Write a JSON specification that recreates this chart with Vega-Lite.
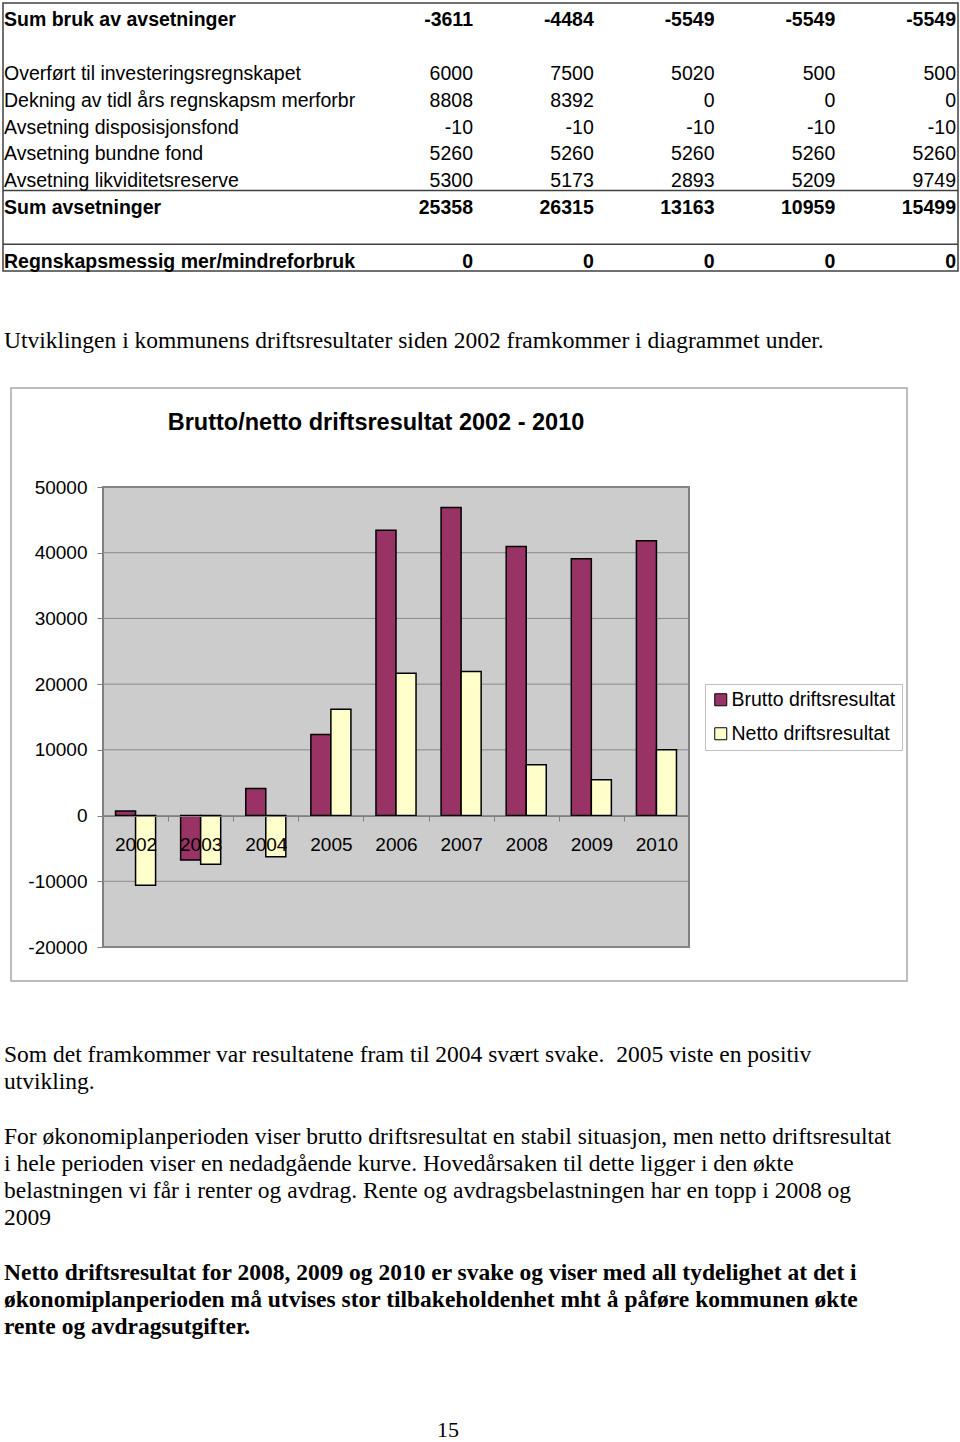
{
  "$schema": "https://vega.github.io/schema/vega-lite/v6.json",
  "width": 960,
  "height": 1442,
  "autosize": {"type": "none"},
  "padding": 0,
  "background": "white",
  "config": {"view": {"stroke": null}, "font": "Liberation Sans"},
  "datasets": {
    "labels": [
      {"row": 0, "label": "Sum bruk av avsetninger", "bold": true},
      {"row": 2, "label": "Overført til investeringsregnskapet", "bold": false},
      {"row": 3, "label": "Dekning av tidl års regnskapsm merforbr", "bold": false},
      {"row": 4, "label": "Avsetning disposisjonsfond", "bold": false},
      {"row": 5, "label": "Avsetning bundne fond", "bold": false},
      {"row": 6, "label": "Avsetning likviditetsreserve", "bold": false},
      {"row": 7, "label": "Sum avsetninger", "bold": true},
      {"row": 9, "label": "Regnskapsmessig mer/mindreforbruk", "bold": true}
    ],
    "cells": [
      {"row": 0, "col": 1, "v": -3611, "bold": true}, {"row": 0, "col": 2, "v": -4484, "bold": true}, {"row": 0, "col": 3, "v": -5549, "bold": true}, {"row": 0, "col": 4, "v": -5549, "bold": true}, {"row": 0, "col": 5, "v": -5549, "bold": true},
      {"row": 2, "col": 1, "v": 6000, "bold": false}, {"row": 2, "col": 2, "v": 7500, "bold": false}, {"row": 2, "col": 3, "v": 5020, "bold": false}, {"row": 2, "col": 4, "v": 500, "bold": false}, {"row": 2, "col": 5, "v": 500, "bold": false},
      {"row": 3, "col": 1, "v": 8808, "bold": false}, {"row": 3, "col": 2, "v": 8392, "bold": false}, {"row": 3, "col": 3, "v": 0, "bold": false}, {"row": 3, "col": 4, "v": 0, "bold": false}, {"row": 3, "col": 5, "v": 0, "bold": false},
      {"row": 4, "col": 1, "v": -10, "bold": false}, {"row": 4, "col": 2, "v": -10, "bold": false}, {"row": 4, "col": 3, "v": -10, "bold": false}, {"row": 4, "col": 4, "v": -10, "bold": false}, {"row": 4, "col": 5, "v": -10, "bold": false},
      {"row": 5, "col": 1, "v": 5260, "bold": false}, {"row": 5, "col": 2, "v": 5260, "bold": false}, {"row": 5, "col": 3, "v": 5260, "bold": false}, {"row": 5, "col": 4, "v": 5260, "bold": false}, {"row": 5, "col": 5, "v": 5260, "bold": false},
      {"row": 6, "col": 1, "v": 5300, "bold": false}, {"row": 6, "col": 2, "v": 5173, "bold": false}, {"row": 6, "col": 3, "v": 2893, "bold": false}, {"row": 6, "col": 4, "v": 5209, "bold": false}, {"row": 6, "col": 5, "v": 9749, "bold": false},
      {"row": 7, "col": 1, "v": 25358, "bold": true}, {"row": 7, "col": 2, "v": 26315, "bold": true}, {"row": 7, "col": 3, "v": 13163, "bold": true}, {"row": 7, "col": 4, "v": 10959, "bold": true}, {"row": 7, "col": 5, "v": 15499, "bold": true},
      {"row": 9, "col": 1, "v": 0, "bold": true}, {"row": 9, "col": 2, "v": 0, "bold": true}, {"row": 9, "col": 3, "v": 0, "bold": true}, {"row": 9, "col": 4, "v": 0, "bold": true}, {"row": 9, "col": 5, "v": 0, "bold": true}
    ],
    "tablelines": [{"b": 6.5}, {"b": 8.5}],
    "intro": [{"row": 12, "label": "Utviklingen i kommunens driftsresultater siden 2002 framkommer i diagrammet under."}],
    "para": [
      {"line": 0, "text": "Som det framkommer var resultatene fram til 2004 svært svake.\u00a0 2005 viste en positiv", "bold": false},
      {"line": 1, "text": "utvikling.", "bold": false},
      {"line": 3, "text": "For økonomiplanperioden viser brutto driftsresultat en stabil situasjon, men netto driftsresultat", "bold": false},
      {"line": 4, "text": "i hele perioden viser en nedadgående kurve. Hovedårsaken til dette ligger i den økte", "bold": false},
      {"line": 5, "text": "belastningen vi får i renter og avdrag. Rente og avdragsbelastningen har en topp i 2008 og", "bold": false},
      {"line": 6, "text": "2009", "bold": false},
      {"line": 8, "text": "Netto driftsresultat for 2008, 2009 og 2010 er svake og viser med all tydelighet at det i", "bold": true},
      {"line": 9, "text": "økonomiplanperioden må utvises stor tilbakeholdenhet mht å påføre kommunen økte", "bold": true},
      {"line": 10, "text": "rente og avdragsutgifter.", "bold": true}
    ],
    "pagenum": [{"line": 14, "text": "15"}],
    "results": [
      {"year": "2002", "series": "Brutto driftsresultat", "value": 700},
      {"year": "2002", "series": "Netto driftsresultat", "value": -10600},
      {"year": "2003", "series": "Brutto driftsresultat", "value": -6760},
      {"year": "2003", "series": "Netto driftsresultat", "value": -7420},
      {"year": "2004", "series": "Brutto driftsresultat", "value": 4130},
      {"year": "2004", "series": "Netto driftsresultat", "value": -6260},
      {"year": "2005", "series": "Brutto driftsresultat", "value": 12340},
      {"year": "2005", "series": "Netto driftsresultat", "value": 16190},
      {"year": "2006", "series": "Brutto driftsresultat", "value": 43430},
      {"year": "2006", "series": "Netto driftsresultat", "value": 21660},
      {"year": "2007", "series": "Brutto driftsresultat", "value": 46890},
      {"year": "2007", "series": "Netto driftsresultat", "value": 21920},
      {"year": "2008", "series": "Brutto driftsresultat", "value": 40960},
      {"year": "2008", "series": "Netto driftsresultat", "value": 7720},
      {"year": "2009", "series": "Brutto driftsresultat", "value": 39090},
      {"year": "2009", "series": "Netto driftsresultat", "value": 5440},
      {"year": "2010", "series": "Brutto driftsresultat", "value": 41820},
      {"year": "2010", "series": "Netto driftsresultat", "value": 10000}
    ],
    "grid": [{"g": -20000}, {"g": -10000}, {"g": 0}, {"g": 10000}, {"g": 20000}, {"g": 30000}, {"g": 40000}, {"g": 50000}]
  },
  "layer": [
    {
      "layer": [
        {
          "data": {"values": [{}]},
          "mark": {"type": "rect", "fill": "white", "fillOpacity": 0, "stroke": "#404040", "strokeWidth": 1.5},
          "encoding": {
            "x": {"datum": 0, "type": "quantitative", "scale": {"domain": [0, 1], "range": [3, 958]}, "axis": null},
            "x2": {"datum": 1},
            "y": {"datum": -0.5, "type": "quantitative", "scale": {"domain": [-0.5, 9.5], "range": [3, 271]}, "axis": null},
            "y2": {"datum": 9.5}
          }
        },
        {
          "data": {"name": "tablelines"},
          "mark": {"type": "rule", "stroke": "#404040", "strokeWidth": 1.5},
          "encoding": {
            "x": {"datum": 0, "type": "quantitative", "scale": {"domain": [0, 1], "range": [3, 958]}, "axis": null},
            "x2": {"datum": 1},
            "y": {"field": "b", "type": "quantitative", "scale": {"domain": [-0.5, 9.5], "range": [3, 271]}, "axis": null}
          }
        },
        {
          "data": {"name": "labels"},
          "transform": [{"filter": "!datum.bold"}],
          "mark": {"type": "text", "align": "left", "baseline": "middle", "fontSize": 19.5, "font": "Liberation Sans", "dx": 1, "dy": 4, "color": "black"},
          "encoding": {
            "x": {"datum": 0, "type": "quantitative", "scale": {"domain": [0, 1], "range": [3, 958]}, "axis": null},
            "y": {"field": "row", "type": "quantitative", "scale": {"domain": [-0.5, 9.5], "range": [3, 271]}, "axis": null},
            "text": {"field": "label", "type": "nominal"}
          }
        },
        {
          "data": {"name": "labels"},
          "transform": [{"filter": "datum.bold"}],
          "mark": {"type": "text", "align": "left", "baseline": "middle", "fontSize": 19.5, "fontWeight": "bold", "font": "Liberation Sans", "dx": 1, "dy": 4, "color": "black"},
          "encoding": {
            "x": {"datum": 0, "type": "quantitative", "scale": {"domain": [0, 1], "range": [3, 958]}, "axis": null},
            "y": {"field": "row", "type": "quantitative", "scale": {"domain": [-0.5, 9.5], "range": [3, 271]}, "axis": null},
            "text": {"field": "label", "type": "nominal"}
          }
        },
        {
          "data": {"name": "cells"},
          "transform": [{"filter": "!datum.bold"}],
          "mark": {"type": "text", "align": "right", "baseline": "middle", "fontSize": 19.5, "font": "Liberation Sans", "dy": 4, "color": "black"},
          "encoding": {
            "x": {"field": "col", "type": "quantitative", "scale": {"domain": [1, 5], "range": [473, 956]}, "axis": null},
            "y": {"field": "row", "type": "quantitative", "scale": {"domain": [-0.5, 9.5], "range": [3, 271]}, "axis": null},
            "text": {"field": "v", "type": "nominal"}
          }
        },
        {
          "data": {"name": "cells"},
          "transform": [{"filter": "datum.bold"}],
          "mark": {"type": "text", "align": "right", "baseline": "middle", "fontSize": 19.5, "fontWeight": "bold", "font": "Liberation Sans", "dy": 4, "color": "black"},
          "encoding": {
            "x": {"field": "col", "type": "quantitative", "scale": {"domain": [1, 5], "range": [473, 956]}, "axis": null},
            "y": {"field": "row", "type": "quantitative", "scale": {"domain": [-0.5, 9.5], "range": [3, 271]}, "axis": null},
            "text": {"field": "v", "type": "nominal"}
          }
        },
        {
          "data": {"name": "intro"},
          "mark": {"type": "text", "align": "left", "baseline": "middle", "fontSize": 23.5, "font": "Liberation Serif", "dx": 1, "dy": 3, "color": "black"},
          "encoding": {
            "x": {"datum": 0, "type": "quantitative", "scale": {"domain": [0, 1], "range": [3, 958]}, "axis": null},
            "y": {"field": "row", "type": "quantitative", "scale": {"domain": [-0.5, 9.5], "range": [3, 271]}, "axis": null},
            "text": {"field": "label", "type": "nominal"}
          }
        }
      ],
      "resolve": {"scale": {"x": "independent"}}
    },
    {
      "layer": [
        {
          "data": {"name": "para"},
          "transform": [{"filter": "!datum.bold"}],
          "mark": {"type": "text", "align": "left", "baseline": "middle", "fontSize": 23.5, "font": "Liberation Serif", "color": "black"},
          "encoding": {
            "x": {"datum": 0, "type": "quantitative", "scale": {"domain": [0, 1], "range": [4, 892]}, "axis": null},
            "y": {"field": "line", "type": "quantitative", "scale": {"domain": [0, 10], "range": [1055, 1327]}, "axis": null},
            "text": {"field": "text", "type": "nominal"}
          }
        },
        {
          "data": {"name": "para"},
          "transform": [{"filter": "datum.bold"}],
          "mark": {"type": "text", "align": "left", "baseline": "middle", "fontSize": 23.5, "fontWeight": "bold", "font": "Liberation Serif", "color": "black"},
          "encoding": {
            "x": {"datum": 0, "type": "quantitative", "scale": {"domain": [0, 1], "range": [4, 892]}, "axis": null},
            "y": {"field": "line", "type": "quantitative", "scale": {"domain": [0, 10], "range": [1055, 1327]}, "axis": null},
            "text": {"field": "text", "type": "nominal"}
          }
        },
        {
          "data": {"name": "pagenum"},
          "mark": {"type": "text", "align": "center", "baseline": "middle", "fontSize": 22, "font": "Liberation Serif", "dy": -6, "color": "black"},
          "encoding": {
            "x": {"datum": 0.5, "type": "quantitative", "scale": {"domain": [0, 1], "range": [4, 892]}, "axis": null},
            "y": {"field": "line", "type": "quantitative", "scale": {"domain": [0, 10], "range": [1055, 1327]}, "axis": null},
            "text": {"field": "text", "type": "nominal"}
          }
        }
      ]
    },
    {
      "layer": [
        {
          "data": {"values": [{}]},
          "mark": {"type": "rect", "fill": "white", "stroke": "#a8a8a8", "strokeWidth": 1.5},
          "encoding": {
            "x": {"datum": 0, "type": "quantitative", "scale": {"domain": [0, 1], "range": [11, 907]}, "axis": null},
            "x2": {"datum": 1},
            "y": {"datum": 0, "type": "quantitative", "scale": {"domain": [0, 1], "range": [388, 981]}, "axis": null},
            "y2": {"datum": 1}
          }
        },
        {
          "data": {"values": [{"title": "Brutto/netto driftsresultat 2002 - 2010"}]},
          "mark": {"type": "text", "align": "center", "baseline": "middle", "fontSize": 23.5, "fontWeight": "bold", "font": "Liberation Sans", "color": "black"},
          "encoding": {
            "x": {"datum": 0.4074, "type": "quantitative", "scale": {"domain": [0, 1], "range": [11, 907]}, "axis": null},
            "y": {"datum": 0.059, "type": "quantitative", "scale": {"domain": [0, 1], "range": [388, 981]}, "axis": null},
            "text": {"field": "title", "type": "nominal"}
          }
        }
      ]
    },
    {
      "layer": [
        {
          "data": {"values": [{}]},
          "mark": {"type": "rect", "fill": "#cccccc", "stroke": "#808080", "strokeWidth": 2},
          "encoding": {
            "x": {"datum": 0, "type": "quantitative", "scale": {"domain": [0, 1], "range": [103, 689]}, "axis": null},
            "x2": {"datum": 1},
            "y": {"datum": -20000, "type": "quantitative", "scale": {"domain": [-20000, 50000], "range": [947, 487], "nice": false},
              "axis": {"orient": "left", "offset": -103, "values": [-20000, -10000, 0, 10000, 20000, 30000, 40000, 50000], "labelExpr": "'' + datum.value", "labelFontSize": 19, "labelFont": "Liberation Sans", "labelColor": "black", "tickSize": 6, "tickColor": "#808080", "labelPadding": 10, "domain": false, "grid": false, "title": null, "zindex": 1}},
            "y2": {"datum": 50000}
          }
        },
        {
          "data": {"name": "grid"},
          "mark": {"type": "rule", "stroke": "#8a8a8a", "strokeWidth": 1},
          "encoding": {
            "x": {"datum": 0, "type": "quantitative", "scale": {"domain": [0, 1], "range": [103, 689]}, "axis": null},
            "x2": {"datum": 1},
            "y": {"field": "g", "type": "quantitative", "scale": {"domain": [-20000, 50000], "range": [947, 487], "nice": false},
              "axis": {"orient": "left", "offset": -103, "values": [-20000, -10000, 0, 10000, 20000, 30000, 40000, 50000], "labelExpr": "'' + datum.value", "labelFontSize": 19, "labelFont": "Liberation Sans", "labelColor": "black", "tickSize": 6, "tickColor": "#808080", "labelPadding": 10, "domain": false, "grid": false, "title": null, "zindex": 1}}
          }
        },
        {
          "data": {"name": "results"},
          "mark": {"type": "bar", "stroke": "black", "strokeWidth": 1.5},
          "encoding": {
            "x": {"field": "year", "type": "ordinal", "scale": {"range": [103, 689], "paddingInner": 0, "paddingOuter": 0},
              "axis": {"orient": "bottom", "offset": -626, "labelFontSize": 19, "labelFont": "Liberation Sans", "labelAngle": 0, "labelColor": "black", "tickBand": "extent", "tickSize": 5, "tickColor": "#808080", "domainColor": "#808080", "labelPadding": 14, "title": null, "zindex": 1}},
            "xOffset": {"field": "series", "type": "nominal", "sort": ["Brutto driftsresultat", "Netto driftsresultat"], "scale": {"paddingInner": 0, "paddingOuter": 0.625}},
            "y": {"field": "value", "type": "quantitative", "scale": {"domain": [-20000, 50000], "range": [947, 487], "nice": false},
              "axis": {"orient": "left", "offset": -103, "values": [-20000, -10000, 0, 10000, 20000, 30000, 40000, 50000], "labelExpr": "'' + datum.value", "labelFontSize": 19, "labelFont": "Liberation Sans", "labelColor": "black", "tickSize": 6, "tickColor": "#808080", "labelPadding": 10, "domain": false, "grid": false, "title": null, "zindex": 1}},
            "color": {"field": "series", "type": "nominal", "scale": {"domain": ["Brutto driftsresultat", "Netto driftsresultat"], "range": ["#993366", "#ffffcc"]},
              "legend": {"orient": "none", "legendX": 705, "legendY": 684, "direction": "vertical", "title": null, "labelFontSize": 19.5, "labelFont": "Liberation Sans", "labelColor": "black", "symbolType": "square", "symbolSize": 144, "symbolStrokeColor": "black", "symbolStrokeWidth": 1, "strokeColor": "#c0c0c0", "fillColor": "white", "padding": 6, "rowPadding": 13, "labelOffset": 1, "labelLimit": 300}}
          }
        }
      ],
      "resolve": {"scale": {"x": "independent"}}
    }
  ],
  "resolve": {"scale": {"x": "independent", "y": "independent"}}
}
